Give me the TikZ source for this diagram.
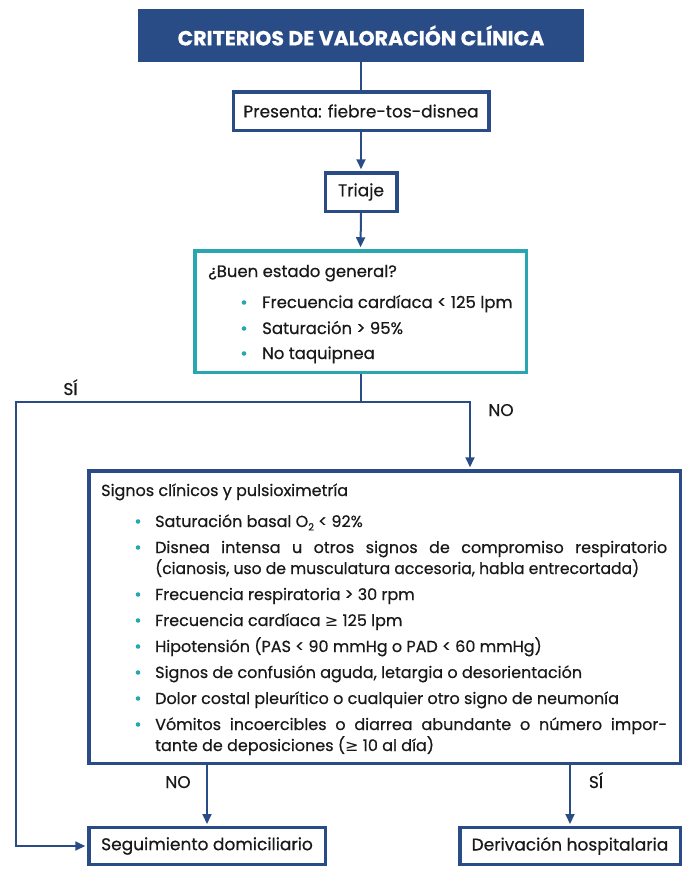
\documentclass[tikz,border=0pt]{standalone}
\usepackage{fontspec}
\setmainfont{Poppins}[FakeBold=0.5]
\newfontfamily\symf{DejaVu Sans}
\usetikzlibrary{arrows.meta}
\definecolor{navy}{RGB}{41,76,134}
\definecolor{tealc}{RGB}{42,166,176}
\definecolor{txt}{RGB}{25,25,25}
\begin{document}
\begin{tikzpicture}[x=1pt,y=-1pt,
  every node/.style={text=txt, font=\fontsize{16}{20}\selectfont},
  bigtxt/.style={font=\fontsize{17}{20}\selectfont},
  midtxt/.style={font=\fontsize{16.5}{20}\selectfont},
  boxb/.style={draw=navy, line width=3.5pt, fill=white, inner sep=0pt, bigtxt},
  lineb/.style={anchor=base west, inner sep=0pt},
  lbl/.style={anchor=base, inner sep=0pt, bigtxt},
  conn/.style={draw=navy, line width=2pt},
  arr/.style={conn, -{Triangle[length=10pt,width=9pt]}, shorten >=1.75pt}]
\useasboundingbox (0,0) rectangle (700,886);

% header
\node[fill=navy, minimum width=446pt, minimum height=53pt, inner sep=0pt, text=white,
      font=\bfseries\fontsize{20.5}{22}\selectfont] (head) at (361,35.5) {CRITERIOS DE VALORACIÓN CLÍNICA};

% boxes
\node[boxb, minimum width=255.5pt, minimum height=38.5pt] (pres) at (361,111) {Presenta: fiebre-tos-disnea};
\node[boxb, minimum width=71.5pt, minimum height=38.5pt] (tri) at (361,192) {Triaje};
\node[boxb, draw=tealc, minimum width=331.5pt, minimum height=121.5pt] (buen) at (360.5,311.5) {};
\node[boxb, minimum width=591.5pt, minimum height=292.5pt] (big) at (384.5,617) {};
\node[boxb, minimum width=236.5pt, minimum height=37pt] (seg) at (207,846) {Seguimiento domiciliario};
\node[boxb, minimum width=220.5pt, minimum height=37pt] (der) at (570,846) {Derivación hospitalaria};

% teal box text
\node[lineb, midtxt] (bt) at (208,277) {¿Buen estado general?};
\node[lineb, midtxt] (b1) at (262,308) {Frecuencia cardíaca < 125 lpm};
\node[lineb, midtxt] (b2) at (262,334) {Saturación > 95\%};
\node[lineb, midtxt] (b3) at (262,359) {No taquipnea};
\foreach \y in {308,334,359} \fill[tealc] (244,\y-5.5) circle[radius=2.3pt];

% big box text
\node[lineb] (st) at (101,496) {Signos clínicos y pulsioximetría};
\node[lineb] (s1) at (155,527) {Saturación basal O\raisebox{-3.5pt}{\fontsize{10}{10}\selectfont 2} < 92\%};
\node[lineb] (s2) at (155,553) {\makebox[512pt][s]{Disnea intensa u otros signos de compromiso respiratorio}};
\node[lineb] (s2b) at (155,574) {\scalebox{0.975}[1]{(cianosis, uso de musculatura accesoria, habla entrecortada)}};
\node[lineb] (s3) at (155,600) {Frecuencia respiratoria > 30 rpm};
\node[lineb] (s4) at (155,626) {Frecuencia cardíaca {\symf ≥} 125 lpm};
\node[lineb] (s5) at (155,652) {Hipotensión (PAS < 90 mmHg o PAD < 60 mmHg)};
\node[lineb] (s6) at (155,678) {Signos de confusión aguda, letargia o desorientación};
\node[lineb] (s7) at (155,704) {Dolor costal pleurítico o cualquier otro signo de neumonía};
\node[lineb] (s8) at (155,730) {\makebox[512pt][s]{Vómitos incoercibles o diarrea abundante o número impor-}};
\node[lineb] (s8b) at (155,751) {tante de deposiciones ({\symf ≥} 10 al día)};
\foreach \y in {527,553,600,626,652,678,704,730} \fill[tealc] (138,\y-5.5) circle[radius=2.3pt];

% connectors
\coordinate (j) at (361,402);
\coordinate (jl) at (16,402);
\coordinate (jr) at (470,402);
\draw[conn] (head.south) -- (pres.north);
\draw[arr] (pres.south) -- (tri.north);
\draw[arr] (tri.south) -- (buen.south |- buen.north);
\draw[conn] (buen.south -| j) -- (j);
\draw[arr] (j) -- (jl) |- (seg.west);
\draw[arr] (j) -- (jr) -- (jr |- big.north);
\draw[arr] (seg.north |- big.south) -- (seg.north);
\draw[arr] (der.north |- big.south) -- (der.north);

% labels
\node[lbl] (si1) at (70.5,395) {SÍ};
\node[lbl] (no1) at (501,416) {NO};
\node[lbl] (no2) at (178,788) {NO};
\node[lbl] (si2) at (596,788) {SÍ};
\end{tikzpicture}
\end{document}
